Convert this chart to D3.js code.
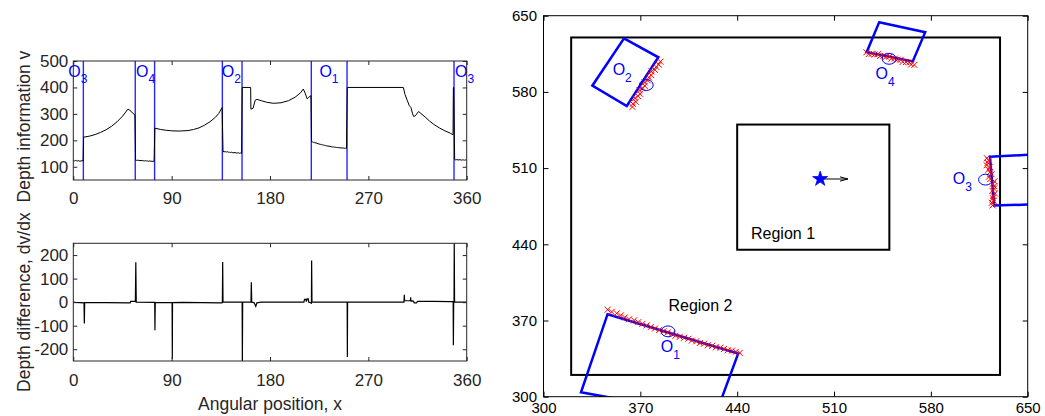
<!DOCTYPE html>
<html>
<head>
<meta charset="utf-8">
<script src="https://d3js.org/d3.v7.min.js"></script>
<style>
body { margin: 0; background: #fff; }
svg { display: block; font-family: "Liberation Sans", Arial, sans-serif; }
</style>
</head>
<body>
<svg id="chart" width="1045" height="416"></svg>
<script>
// ---------- data ----------
// robot pose (star) and heading arrow tip, map units
var robot = [500, 500];
var headingTip = [520, 500];

// depth v (angle x in degrees) on the free space / wall parts
var depthWall1 = [[9.4,212],[15,216],[20,222],[25,230],[30,240],[35,253],[40,270],[45,291],[50,318],[51.5,315],[54,304],[56.4,296]];
var depthWall2 = [[74.6,246],[80,241],[85,238],[90,236],[97,235],[105,237],[110,241],[115,247],[120,257],[125,270],[130,287],[133,301],[136.2,324]];
var depthWall3 = [[154.6,400],[162.3,400],[162.5,318],[164.5,321],[166.5,352],[168,355],[172,350],[177,344],[183,340],[190,342],[197,350],[203,363],[208,380],[210.5,394],[212.2,378],[214,357],[215.5,363],[217.5,369]];
var depthWall4 = [[250.7,400],[302,400],[303.5,374],[305.5,352],[307.5,331],[309,324],[310.5,300],[311.5,290],[313,293],[316,309],[318,302],[322,288],[326,273],[330,260],[335,247],[340,236],[345,227],[347.5,221],[347.8,400],[348.1,400]];

// depth readings on the objects, one per degree from the start angle
var scanO3L = [123,122,124,123,122,123,121,122,123,122];                                   // 0..9
var scanO4  = [125,124,125,124,123,124,123,123,122,123,122,122,121,122,121,121,120,121];    // 57..74
var scanO2  = [158,157,157,156,157,155,155,154,155,153,153,154,152,152,153,151,152,151];    // 137..154
var scanO1  = [195,194,192,191,190,189,187,186,185,184,183,182,181,180,179,178,178,177,176,
               175,175,174,174,173,173,172,172,171,171,171,170,170,170];                    // 218..250
var scanO3R = [127,126,127,126,126,127,125,126,126,125,126];                                // 349..359
var scanStart = [0, 57, 137, 218, 349];

// object borders found in the depth profile
var objEdges = [9.2, 56.7, 74.4, 136.4, 154.4, 217.8, 250.5, 348.4];
var profileLabels = ["3", "4", "2", "1", "3"];
var profileLabelX = [-4.6, 57.4, 135.8, 225.2, 349.3];

// depth difference dv/dx
var dvPts = [[0,0],[2,-1],[9.8,-3],[10.1,-91],[10.4,-2],[30,-2],[52,-3],[52.5,3],[56.8,3],[57.2,170],[57.6,0],
  [74.5,-1],[74.7,-119],[75,-1],[90.4,-2],[90.6,-240],[90.8,-2],[100,-1],[135,-3],[136.4,-2],[136.7,171],[137,0],
  [154.5,0],[154.7,-265],[155,0],[162.6,0],[162.9,84],[163.3,0],[165.5,-3],[167,-18],[168,-3],[172,0],
  [211,0],[211.6,12],[212.8,12],[213.2,2],[214,14],[215,14],[215.4,0],[217.9,-4],[218.1,177],[218.4,0],
  [250.6,0],[250.8,-233],[251,0],[302.6,0],[302.9,31],[303.2,6],[308.5,6],[308.7,21],[309,4],[311,5],[312,-3],
  [314,-3],[315,3],[330,3],[345,2],[347.6,2],[347.8,-183],[348.1,0],[348.4,0],[348.6,265],[348.9,0],[360,0]];

// map: regions and detected objects (O1, O2, O3, O4)
var region2Box = [320, 630, 320, 630];   // x0, x1, y0, y1
var region1Box = [440, 550, 435, 550];
var regionNames = ["Region 1", "Region 2"];
var regionNamePos = [[450, 444.6], [390.3, 378.9]];
var objNames = ["1", "2", "3", "4"];
var rectO1 = [[346.3,375.8],[440.7,339.6],[424,282],[327.1,304]];
var rectO2 = [[358.2,629.2],[383,611.8],[360.2,567],[335.3,585.7]];
var rectO3 = [[622.7,520.4],[680,524.2],[680,477.6],[625.8,475.6]];
var rectO4 = [[542.6,643.9],[575.9,634.8],[566.9,608],[533.6,616.5]];
var objCenters = [[390,360],[374.3,586.3],[619.5,499.4],[549.8,610.4]];
var objRadius = 5;
var objLabelPos = [[384.7,341],[350,595.5],[595.9,495.4],[540,591.9]];

// ---------- chart ----------
var svg = d3.select("#chart");
var BLUE = "#0000ff";
var FONT = '"Liberation Sans", Arial, sans-serif';

function boxAxes(g, x, y, xTicks, yTicks, tickLen, xPad, yPad, fontSize) {
  var w = x.range()[1], h = y.range()[0];
  var fmt = function(d) { return String(d); };
  g.append("g").attr("transform", "translate(0," + h + ")")
    .call(d3.axisBottom(x).tickValues(xTicks).tickSize(-tickLen).tickPadding(xPad).tickFormat(fmt));
  g.append("g").call(d3.axisTop(x).tickValues(xTicks).tickSize(-tickLen).tickFormat(""));
  g.append("g").call(d3.axisLeft(y).tickValues(yTicks).tickSize(-tickLen).tickPadding(yPad).tickFormat(fmt));
  g.append("g").attr("transform", "translate(" + w + ",0)")
    .call(d3.axisRight(y).tickValues(yTicks).tickSize(-tickLen).tickFormat(""));
  g.selectAll(".domain").remove();
  g.selectAll(".tick line").attr("stroke", "#262626");
  g.selectAll(".tick text").attr("fill", "#262626").style("font-size", fontSize + "px")
    .style("font-family", FONT);
  g.append("rect").attr("class", "box").attr("width", w).attr("height", h)
    .attr("fill", "none").attr("stroke", "#262626").attr("stroke-width", 1);
}

function clip(id, w, h) {
  svg.append("clipPath").attr("id", id).append("rect").attr("width", w).attr("height", h);
  return "url(#" + id + ")";
}

// ----- top left: depth profile -----
var p1 = {left: 73.3, top: 61, w: 393.4, h: 119};
var g1 = svg.append("g").attr("transform", "translate(" + p1.left + "," + p1.top + ")");
var x1 = d3.scaleLinear().domain([0, 360]).range([0, p1.w]);
var y1 = d3.scaleLinear().domain([50, 500]).range([p1.h, 0]);

function scanPts(arr, start) {
  return arr.map(function(v, i) { return [start + i, v]; });
}
var scanLists = [scanO3L, scanO4, scanO2, scanO1, scanO3R];
var objScanPts = scanLists.map(function(s, i) { return scanPts(s, scanStart[i]); });

var profile = [].concat(objScanPts[0], depthWall1, objScanPts[1], depthWall2, objScanPts[2],
  depthWall3, objScanPts[3], depthWall4, objScanPts[4], [[360, 126]]);

var line1 = d3.line().x(function(d) { return x1(d[0]); }).y(function(d) { return y1(d[1]); });

g1.selectAll(".edge").data(objEdges).enter().append("line")
  .attr("x1", function(d) { return x1(d); }).attr("x2", function(d) { return x1(d); })
  .attr("y1", 0).attr("y2", p1.h)
  .attr("stroke", BLUE).attr("stroke-width", 1.4).attr("stroke-opacity", 0.85);

g1.append("path").datum(profile).attr("d", line1)
  .attr("fill", "none").attr("stroke", "#000").attr("stroke-width", 1);

var pl = g1.selectAll(".plab").data(profileLabels).enter().append("text")
  .attr("x", function(d, i) { return x1(profileLabelX[i]); })
  .attr("y", y1(440.8))
  .attr("fill", BLUE).style("font-size", "16px");
pl.append("tspan").text("O");
pl.append("tspan").text(function(d) { return d; }).attr("dy", 6.5).style("font-size", "12px");

boxAxes(g1, x1, y1, [0, 90, 180, 270, 360], [100, 200, 300, 400, 500], 4, 12, 5, 17);

svg.append("text").attr("transform", "translate(29.5," + (p1.top + p1.h / 2 + 6) + ") rotate(-90)")
  .attr("text-anchor", "middle").attr("fill", "#262626").style("font-size", "17.5px")
  .text("Depth information v");

// ----- bottom left: depth difference -----
var p2 = {left: 73.3, top: 243.3, w: 393.4, h: 117.7};
var g2 = svg.append("g").attr("transform", "translate(" + p2.left + "," + p2.top + ")");
var x2 = d3.scaleLinear().domain([0, 360]).range([0, p2.w]);
var y2 = d3.scaleLinear().domain([-250, 250]).range([p2.h, 0]);
var clip2 = clip("clip2", p2.w, p2.h);
g2.append("g").attr("clip-path", clip2).append("path").datum(dvPts)
  .attr("d", d3.line().x(function(d) { return x2(d[0]); }).y(function(d) { return y2(d[1]); }))
  .attr("fill", "none").attr("stroke", "#000").attr("stroke-width", 1.2);
boxAxes(g2, x2, y2, [0, 90, 180, 270, 360], [-200, -100, 0, 100, 200], 4, 12.5, 5, 17);

svg.append("text").attr("transform", "translate(29.5," + (p2.top + p2.h / 2) + ") rotate(-90)")
  .attr("text-anchor", "middle").attr("fill", "#262626").style("font-size", "17.5px")
  .text("Depth difference, dv/dx");
svg.append("text").attr("x", p2.left + p2.w / 2).attr("y", 410)
  .attr("text-anchor", "middle").attr("fill", "#262626").style("font-size", "17.5px")
  .text("Angular position, x");

// ----- right: map -----
var p3 = {left: 543.5, top: 15.7, w: 484.2, h: 381};
var g3 = svg.append("g").attr("transform", "translate(" + p3.left + "," + p3.top + ")");
var x3 = d3.scaleLinear().domain([300, 650]).range([0, p3.w]);
var y3 = d3.scaleLinear().domain([300, 650]).range([p3.h, 0]);
var clip3 = clip("clip3", p3.w, p3.h);
var inner = g3.append("g").attr("clip-path", clip3);

[region2Box, region1Box].forEach(function(b) {
  inner.append("rect").attr("x", x3(b[0])).attr("y", y3(b[3]))
    .attr("width", x3(b[1]) - x3(b[0])).attr("height", y3(b[2]) - y3(b[3]))
    .attr("fill", "none").attr("stroke", "#000").attr("stroke-width", 2);
});
inner.selectAll(".rname").data(regionNames).enter().append("text")
  .attr("x", function(d, i) { return x3(regionNamePos[i][0]); })
  .attr("y", function(d, i) { return y3(regionNamePos[i][1]); })
  .attr("fill", "#000").style("font-size", "16px").text(function(d) { return d; });

var lineMap = d3.line().x(function(d) { return x3(d[0]); }).y(function(d) { return y3(d[1]); });
inner.selectAll(".obj").data([rectO1, rectO2, rectO3, rectO4]).enter().append("path")
  .attr("d", function(d) { return lineMap(d) + "Z"; })
  .attr("fill", "none").attr("stroke", BLUE).attr("stroke-width", 2.5).attr("stroke-linejoin", "miter");

// scan points of the objects, from the robot pose and the depth readings
var hits = [];
objScanPts.forEach(function(list) {
  list.forEach(function(p) {
    var a = p[0] * Math.PI / 180;
    hits.push([robot[0] + p[1] * Math.cos(a), robot[1] + p[1] * Math.sin(a)]);
  });
});
inner.selectAll(".hit").data(hits).enter().append("path")
  .attr("transform", function(d) { return "translate(" + x3(d[0]) + "," + y3(d[1]) + ")"; })
  .attr("d", "M-3,-3L3,3M-3,3L3,-3")
  .attr("stroke", "#ff0000").attr("stroke-width", 1);

var kx = x3(301) - x3(300), ky = y3(300) - y3(301);
inner.selectAll(".oc").data(objCenters).enter().append("ellipse")
  .attr("cx", function(d) { return x3(d[0]); }).attr("cy", function(d) { return y3(d[1]); })
  .attr("rx", objRadius * kx).attr("ry", objRadius * ky)
  .attr("fill", "none").attr("stroke", BLUE).attr("stroke-width", 1);

var ol = inner.selectAll(".olab").data(objNames).enter().append("text")
  .attr("x", function(d, i) { return x3(objLabelPos[i][0]); })
  .attr("y", function(d, i) { return y3(objLabelPos[i][1]); })
  .attr("fill", BLUE).style("font-size", "16px");
ol.append("tspan").text("O");
ol.append("tspan").text(function(d) { return d; }).attr("dy", 7).style("font-size", "12px");

// robot and heading
svg.append("defs").append("marker").attr("id", "head")
  .attr("viewBox", "0 -4 8 8").attr("refX", 8).attr("refY", 0)
  .attr("markerWidth", 8).attr("markerHeight", 8).attr("markerUnits", "userSpaceOnUse")
  .attr("orient", "auto")
  .append("path").attr("d", "M0,-2.2L8,0L0,2.2").attr("fill", "none").attr("stroke", "#000").attr("stroke-width", 1);
inner.append("line")
  .attr("x1", x3(robot[0])).attr("y1", y3(robot[1]))
  .attr("x2", x3(headingTip[0])).attr("y2", y3(headingTip[1]))
  .attr("stroke", "#000").attr("stroke-width", 1).attr("marker-end", "url(#head)");
inner.append("path")
  .attr("transform", "translate(" + x3(robot[0]) + "," + y3(robot[1]) + ")")
  .attr("d", d3.symbol(d3.symbolStar, 70)())
  .attr("fill", BLUE).attr("stroke", BLUE).attr("stroke-width", 0.8);

boxAxes(g3, x3, y3, [300, 370, 440, 510, 580, 650], [300, 370, 440, 510, 580, 650], 5, 6, 6.5, 15);
g3.selectAll(".tick line").attr("stroke", "#000");
g3.selectAll(".tick text").attr("fill", "#000");
g3.select(".box").attr("stroke", "#000");
</script>
</body>
</html>
